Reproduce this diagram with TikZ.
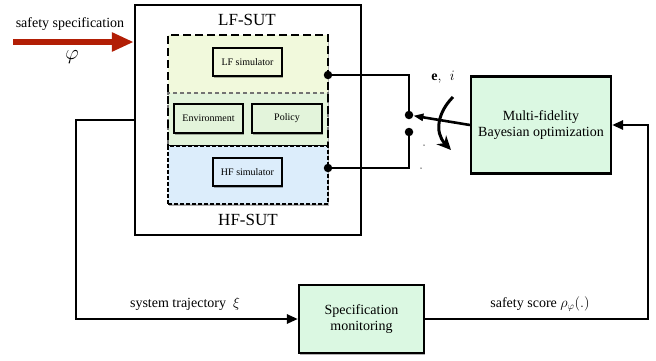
\documentclass[tikz,border=0pt]{standalone}
\usepackage{fontspec}
\setmainfont{Liberation Serif}
\usetikzlibrary{arrows.meta,shadows}
\definecolor{lfcol}{HTML}{F1F9DC}
\definecolor{midcol}{HTML}{E3F4DB}
\definecolor{hfcol}{HTML}{DCEDFB}
\definecolor{boxgreen}{HTML}{DBF8E2}
\definecolor{redarrow}{HTML}{B21E05}
\tikzset{
  mainfont/.style={font=\fontsize{14}{15.5}\selectfont},
  smallfont/.style={font=\fontsize{10}{12}\selectfont},
  shad/.style={drop shadow={shadow xshift=1pt,shadow yshift=-1.5pt,opacity=0.3,fill=black}},
  blockbox/.style={draw,line width=2.2pt,fill=boxgreen,shad,mainfont,align=center,inner sep=0pt},
  innerbox/.style={draw,line width=2.8pt,smallfont,inner sep=0pt,shad},
  conn/.style={line width=2.6pt},
  tipa/.style={-{Triangle[length=11pt,width=9pt]}},
  dot/.style={circle,fill=black,inner sep=0pt,minimum size=8.5pt},
  tinydot/.style={circle,fill=black!70,inner sep=0pt,minimum size=1.5pt},
}
\begin{document}
\begin{tikzpicture}[x=1pt,y=-1pt]
\useasboundingbox (0,0) rectangle (656,360);

% outer SUT box
\node[draw,line width=2.4pt,minimum width=226pt,minimum height=230pt,inner sep=0pt] (sut) at (248,120) {};
\node[font=\fontsize{17}{19}\selectfont] (lfsut) at (247,20) {LF-SUT};
\node[font=\fontsize{17}{19}\selectfont] (hfsut) at (248,220) {HF-SUT};

% regions
\node[fill=lfcol,minimum width=160pt,minimum height=111pt,inner sep=0pt,shad] (lfreg) at (248,90.5) {};
\node[fill=midcol,draw=black!55,dash pattern=on 4pt off 3pt,line width=1.4pt,minimum width=160pt,minimum height=53pt,inner sep=0pt] (midreg) at (248,119.5) {};
\node[draw,dash pattern=on 8pt off 4pt,line width=2.2pt,minimum width=160pt,minimum height=111pt,inner sep=0pt] (lfborder) at (248,90.5) {};
\node[fill=hfcol,draw,dash pattern=on 4pt off 2pt,line width=1.6pt,minimum width=160pt,minimum height=58pt,inner sep=0pt,shad] (hfreg) at (248,175) {};

% inner boxes
\node[innerbox,fill=lfcol,minimum width=69pt,minimum height=28pt] (lfsim) at (247.5,62) {LF simulator};
\node[innerbox,fill=midcol,minimum width=69pt,minimum height=29pt] (env) at (208.5,118.5) {Environment};
\node[innerbox,fill=midcol,minimum width=70pt,minimum height=29pt] (pol) at (287,118.5) {Policy};
\node[innerbox,fill=hfcol,minimum width=69pt,minimum height=28pt] (hfsim) at (247.5,172) {HF simulator};

% blocks
\node[blockbox,minimum width=140pt,minimum height=97pt] (mfbo) at (541,125) {Multi-fidelity\\Bayesian optimization};
\node[blockbox,minimum width=125pt,minimum height=68pt] (spec) at (361.5,319) {Specification\\monitoring};

% safety spec input
\node[mainfont] (specl) at (70,24) {safety specification};
\node[font=\fontsize{22}{24}\selectfont] (phil) at (72,57) {$\varphi$};
\coordinate (redstart) at (13,42);
\draw[redarrow,line width=6pt,-{Triangle[length=22pt,width=18pt]}] (redstart) -- (sut.west |- redstart);

% switch
\node[dot] (lfdot) at (328,75) {};
\node[dot] (hfdot) at (328,168) {};
\node[dot] (sw1) at (409,115) {};
\node[dot] (sw2) at (409,132) {};
\draw[conn] (lfdot.center) -| (sw1.center);
\draw[conn] (sw2.center) |- (hfdot.center);
\draw[conn,-{Triangle[length=10pt,width=7pt]}] (mfbo.west) -- (sw1);
\node[font=\fontsize{14}{16}\selectfont] (eil) at (443,77) {$\mathbf{e},\ \,i$};
\coordinate (ca1) at (453,97);
\coordinate (ca2) at (451,150);
\draw[line width=3pt,-{Stealth[length=14pt,width=13pt]}] (ca1) .. controls (438,112) and (434,132) .. (ca2);
\node[tinydot] (td1) at (424,145) {};
\node[tinydot] (td2) at (421,168) {};

% feedback loop
\coordinate (bl) at (76,319);
\coordinate (br) at (648,319);
\draw[conn,tipa] (sut.west) -| (bl) -- (spec.west);
\draw[conn,tipa] (spec.east) -- (br) |- (mfbo.east);
\node[mainfont] (trajl) at (185,304) {system trajectory \ $\xi$};
\node[mainfont] (scorel) at (540,304) {safety score $\rho_{\varphi}(.)$};
\end{tikzpicture}
\end{document}
